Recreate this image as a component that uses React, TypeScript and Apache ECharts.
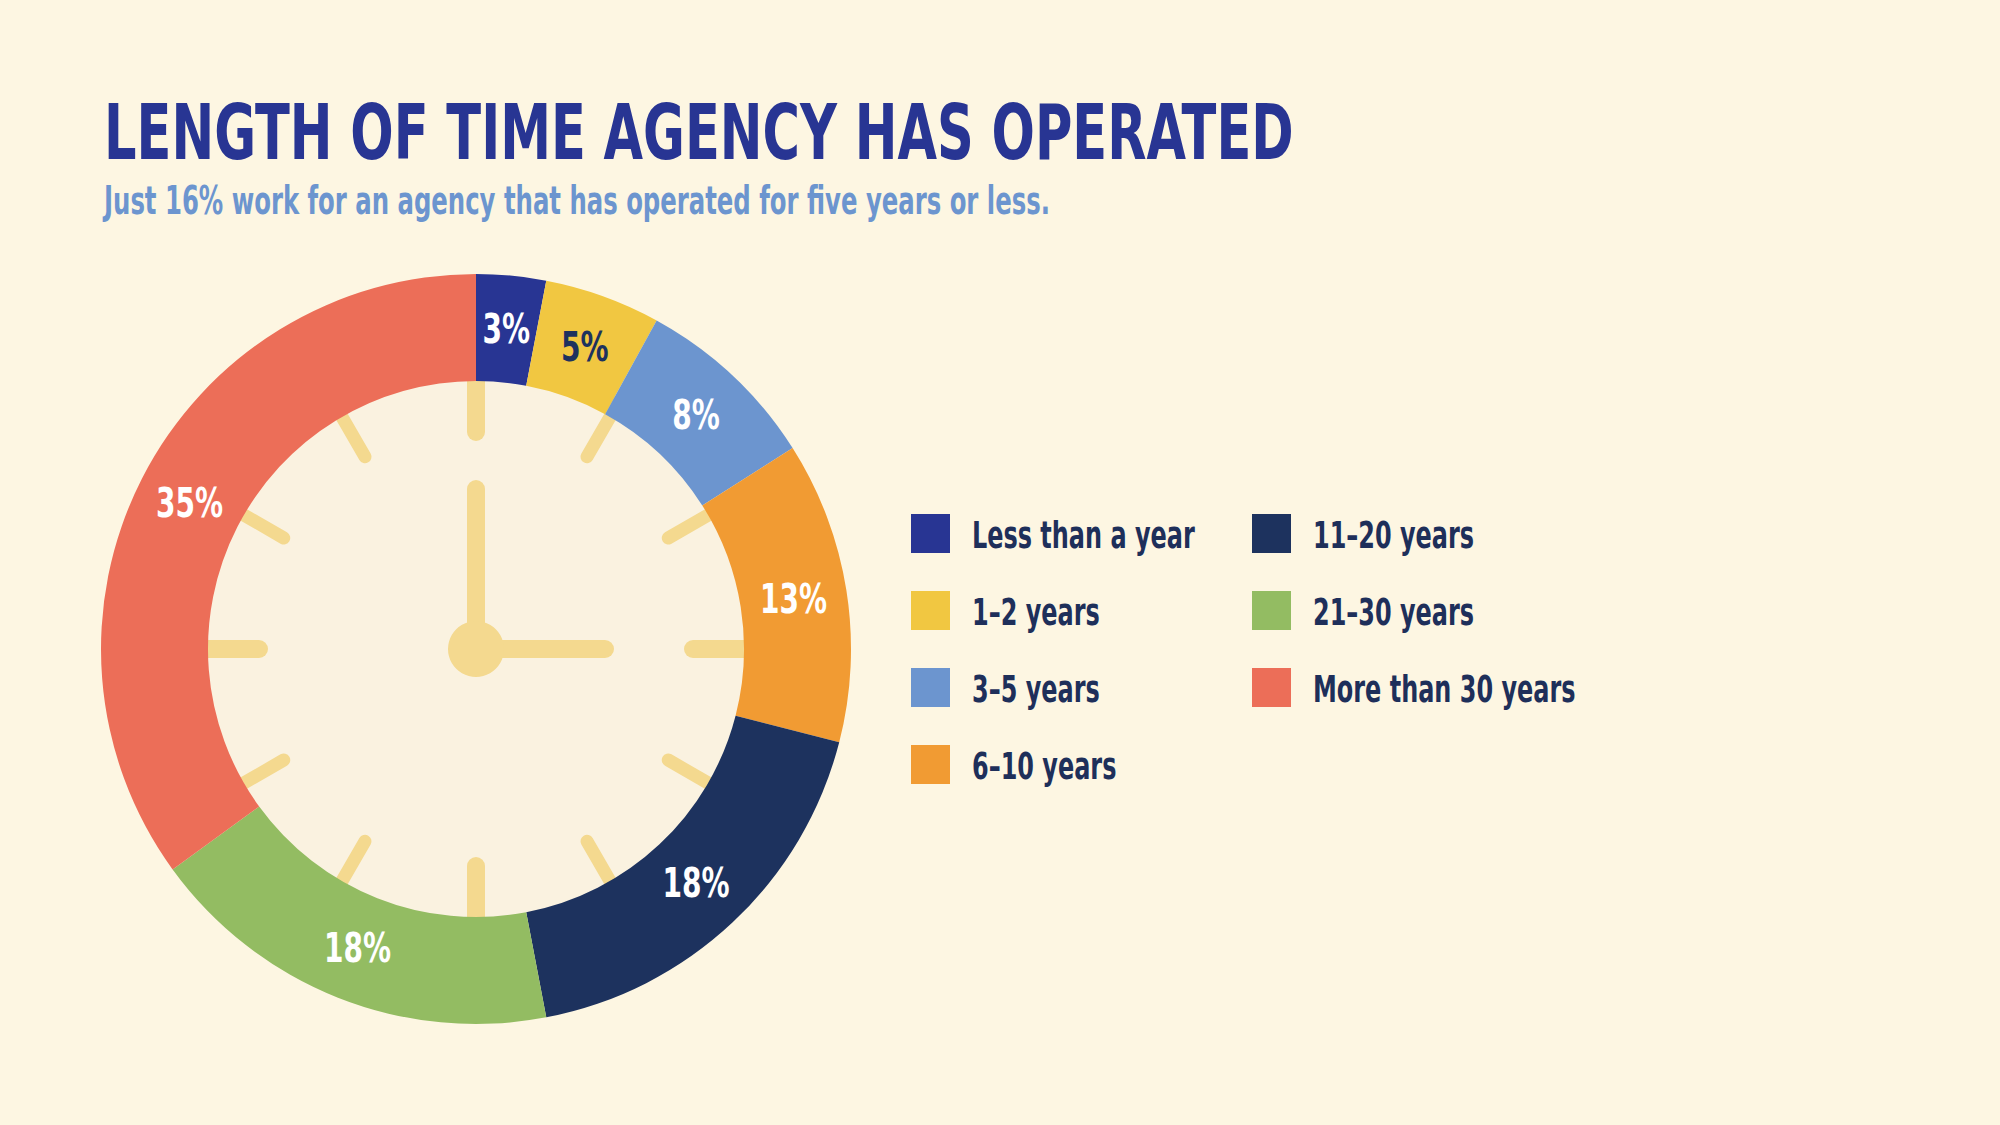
import React, { useEffect, useRef } from "react";
import * as echarts from "echarts";

const categories = [
  "Less than a year",
  "1–2 years",
  "3–5 years",
  "6–10 years",
  "11–20 years",
  "21–30 years",
  "More than 30 years",
];
const shares = [3, 5, 8, 13, 18, 18, 35];
const sliceColors = ["#283593", "#F1C741", "#6C95CF", "#F19B33", "#1D325E", "#93BC62", "#EC6E58"];
const labelColors = ["#FFFFFF", "#1D325E", "#FFFFFF", "#FFFFFF", "#FFFFFF", "#FFFFFF", "#FFFFFF"];
const legendColumns = [categories.slice(0, 4), categories.slice(4)];
const titleText = "LENGTH OF TIME AGENCY HAS OPERATED";
const subtitleText = "Just 16% work for an agency that has operated for five years or less.";
const clockHours = [0, 1, 2, 3, 4, 5, 6, 7, 8, 9, 10, 11];

const FONT = '"Liberation Sans Narrow", "DejaVu Sans Condensed", "Arial Narrow", sans-serif';
const BG = "#FDF6E2";
const FACE = "#FAF2E0";
const TICK = "#F4D98F";
const NAVY = "#1E2F5A";
const CX = 476;
const CY = 649;
const R_IN = 268;
const R_OUT = 375;

export default function App() {
  const ref = useRef<HTMLDivElement>(null);
  useEffect(() => {
    if (!ref.current) return;
    const chart = echarts.init(ref.current, undefined, { renderer: "svg" });

    const clockGraphics: any[] = [
      { type: "circle", shape: { cx: CX, cy: CY, r: R_IN + 2 }, style: { fill: FACE }, z: 0 },
    ];
    clockHours.forEach((h) => {
      const a = (h * 30 * Math.PI) / 180;
      const major = h % 3 === 0;
      const r0 = major ? 217 : 222;
      const r1 = 285;
      clockGraphics.push({
        type: "line",
        z: 0,
        shape: {
          x1: CX + Math.sin(a) * r0,
          y1: CY - Math.cos(a) * r0,
          x2: CX + Math.sin(a) * r1,
          y2: CY - Math.cos(a) * r1,
        },
        style: { stroke: TICK, lineWidth: major ? 18 : 13, lineCap: "round" },
      });
    });
    clockGraphics.push({
      type: "line",
      z: 0,
      shape: { x1: CX, y1: CY, x2: CX, y2: 489 },
      style: { stroke: TICK, lineWidth: 18, lineCap: "round" },
    });
    clockGraphics.push({
      type: "line",
      z: 0,
      shape: { x1: CX, y1: CY, x2: 605, y2: CY },
      style: { stroke: TICK, lineWidth: 18, lineCap: "round" },
    });
    clockGraphics.push({
      type: "circle",
      z: 0,
      shape: { cx: CX, cy: CY, r: 28 },
      style: { fill: TICK },
    });

    // legend (two columns)
    const legendGraphics: any[] = [];
    legendColumns.forEach((col, c) => {
      col.forEach((name, r) => {
        const idx = categories.indexOf(name);
        const x0 = 911 + c * 341;
        const y0 = 514 + r * 77;
        legendGraphics.push({
          type: "rect",
          z: 5,
          shape: { x: x0, y: y0, width: 39, height: 39 },
          style: { fill: sliceColors[idx] },
        });
        legendGraphics.push({
          type: "text",
          z: 5,
          x: x0 + 61,
          y: y0 + 21,
          scaleX: 0.72,
          style: {
            text: name,
            fill: NAVY,
            fontSize: 37,
            fontWeight: "bold",
            fontFamily: FONT,
            verticalAlign: "middle",
          },
        });
      });
    });

    // label positions: middle of each slice (cumulative share)
    let acc = 0;
    const labelData = shares.map((v, i) => {
      const mid = acc + v / 2;
      acc += v;
      return { value: [0.5, mid], share: v, color: labelColors[i] };
    });

    const option: any = {
      animation: false,
      backgroundColor: BG,
      polar: { center: [CX, CY], radius: [R_IN, R_OUT] },
      angleAxis: {
        type: "value",
        min: 0,
        max: 100,
        startAngle: 90,
        clockwise: true,
        show: false,
      },
      radiusAxis: { type: "value", min: 0, max: 1, show: false },
      graphic: [
        ...clockGraphics,
        ...legendGraphics,
        {
          type: "text",
          x: 104,
          y: 132,
          scaleX: 0.737,
          z: 5,
          style: {
            text: titleText,
            fill: "#283593",
            fontSize: 77,
            fontWeight: "bold",
            fontFamily: FONT,
            verticalAlign: "middle",
          },
        },
        {
          type: "text",
          x: 104,
          y: 201,
          scaleX: 0.694,
          z: 5,
          style: {
            text: subtitleText,
            fill: "#6C95CF",
            fontSize: 39,
            fontWeight: "bold",
            fontFamily: FONT,
            verticalAlign: "middle",
          },
        },
      ],
      series: [
        {
          type: "pie",
          z: 2,
          center: [CX, CY],
          radius: [R_IN, R_OUT],
          startAngle: 90,
          clockwise: true,
          label: { show: false },
          labelLine: { show: false },
          emphasis: { disabled: true },
          itemStyle: { borderWidth: 0 },
          data: categories.map((name, i) => ({
            name,
            value: shares[i],
            itemStyle: { color: sliceColors[i] },
          })),
        },
        {
          type: "custom",
          coordinateSystem: "polar",
          z: 10,
          silent: true,
          data: labelData,
          renderItem: (params: any, api: any) => {
            const p = api.coord([api.value(0), api.value(1)]);
            const item = labelData[params.dataIndex];
            return {
              type: "text",
              x: p[0],
              y: p[1],
              scaleX: 0.76,
              style: {
                text: item.share + "%",
                fill: item.color,
                fontSize: 41,
                fontWeight: "bold",
                fontFamily: FONT,
                align: "center",
                verticalAlign: "middle",
              },
            };
          },
        },
      ],
    };
    chart.setOption(option);
    return () => chart.dispose();
  }, []);
  return (
    <div
      ref={ref}
      style={{ position: "fixed", left: 0, top: 0, width: 2000, height: 1125 }}
    />
  );
}
